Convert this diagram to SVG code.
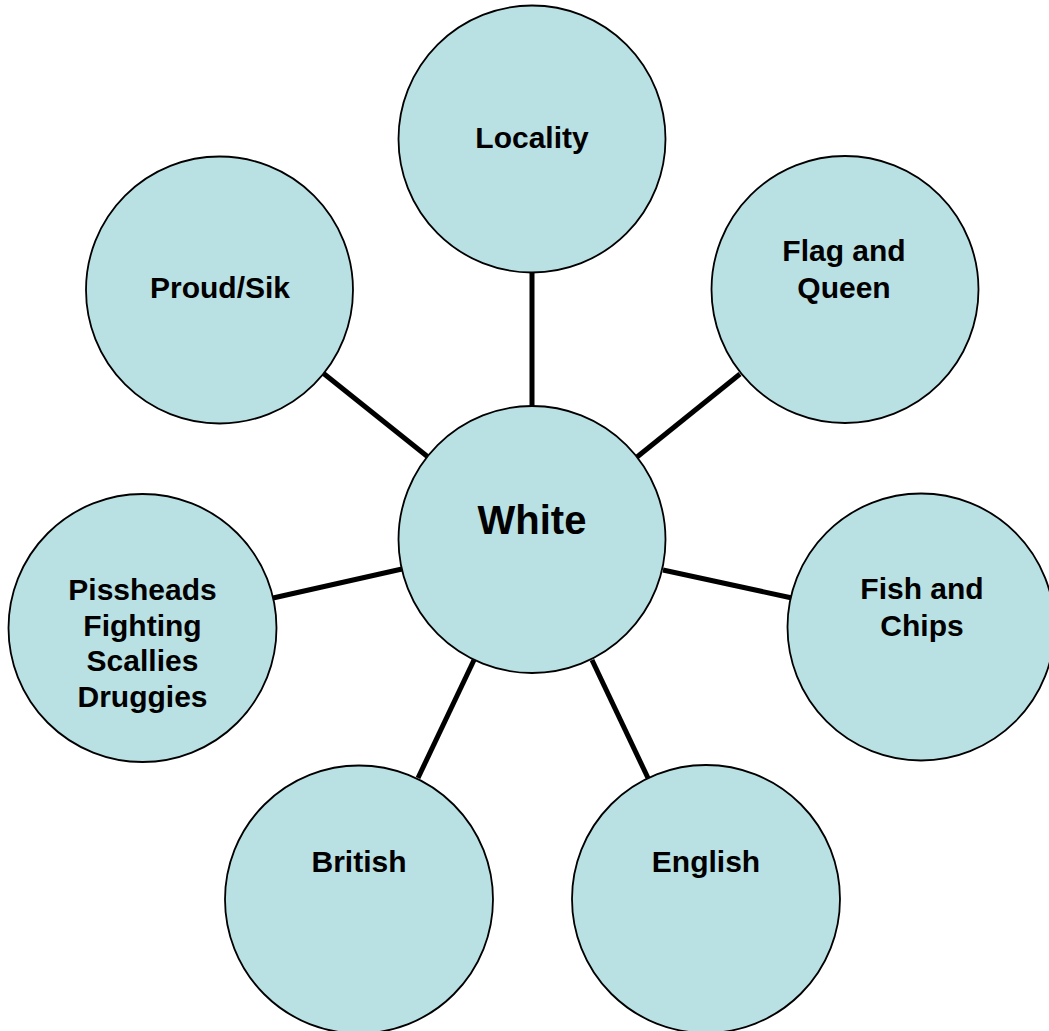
<svg xmlns="http://www.w3.org/2000/svg" width="1049" height="1031" viewBox="0 0 1049 1031">
<style>
.n{fill:#B9E0E3;stroke:#000;stroke-width:1.8}
.t{font-family:"Liberation Sans",Arial,sans-serif;font-weight:bold;font-size:30px;fill:#000;text-anchor:middle}
.c{stroke:#000;stroke-width:5;fill:none}
</style>
<rect width="1049" height="1031" fill="#fff"/>
<g id="connectors">
<line class="c" x1="532" y1="272" x2="532" y2="406"/>
<line class="c" x1="740" y1="374" x2="637" y2="457"/>
<line class="c" x1="323" y1="373" x2="428" y2="457"/>
<line class="c" x1="273" y1="598" x2="402" y2="569"/>
<line class="c" x1="663" y1="570" x2="792" y2="598"/>
<line class="c" x1="474" y1="660" x2="418" y2="778"/>
<line class="c" x1="592" y1="660" x2="648" y2="778"/>
</g>
<g id="locality"><circle class="n" cx="532" cy="139" r="133.5"/><text class="t" x="532" y="147.5">Locality</text></g>
<g id="flag"><circle class="n" cx="845" cy="289.5" r="133.5"/><text class="t" x="844" y="261">Flag and</text><text class="t" x="844" y="297.5">Queen</text></g>
<g id="proud"><circle class="n" cx="219.5" cy="290" r="133.5"/><text class="t" x="220" y="297.5">Proud/Sik</text></g>
<g id="white"><circle class="n" cx="532" cy="539.5" r="133.5"/><text class="t" x="532" y="533.5" style="font-size:40px">White</text></g>
<g id="pissheads"><circle class="n" cx="142.5" cy="628" r="134"/><text class="t" x="142.5" y="600">Pissheads</text><text class="t" x="142.5" y="635.5">Fighting</text><text class="t" x="142.5" y="671">Scallies</text><text class="t" x="142.5" y="706.5">Druggies</text></g>
<g id="fish"><circle class="n" cx="921" cy="627" r="133.5"/><text class="t" x="922" y="598.5">Fish and</text><text class="t" x="922" y="635.5">Chips</text></g>
<g id="british"><circle class="n" cx="359" cy="899.5" r="134"/><text class="t" x="359" y="871.5">British</text></g>
<g id="english"><circle class="n" cx="706" cy="899" r="134"/><text class="t" x="706" y="871.5">English</text></g>
</svg>
